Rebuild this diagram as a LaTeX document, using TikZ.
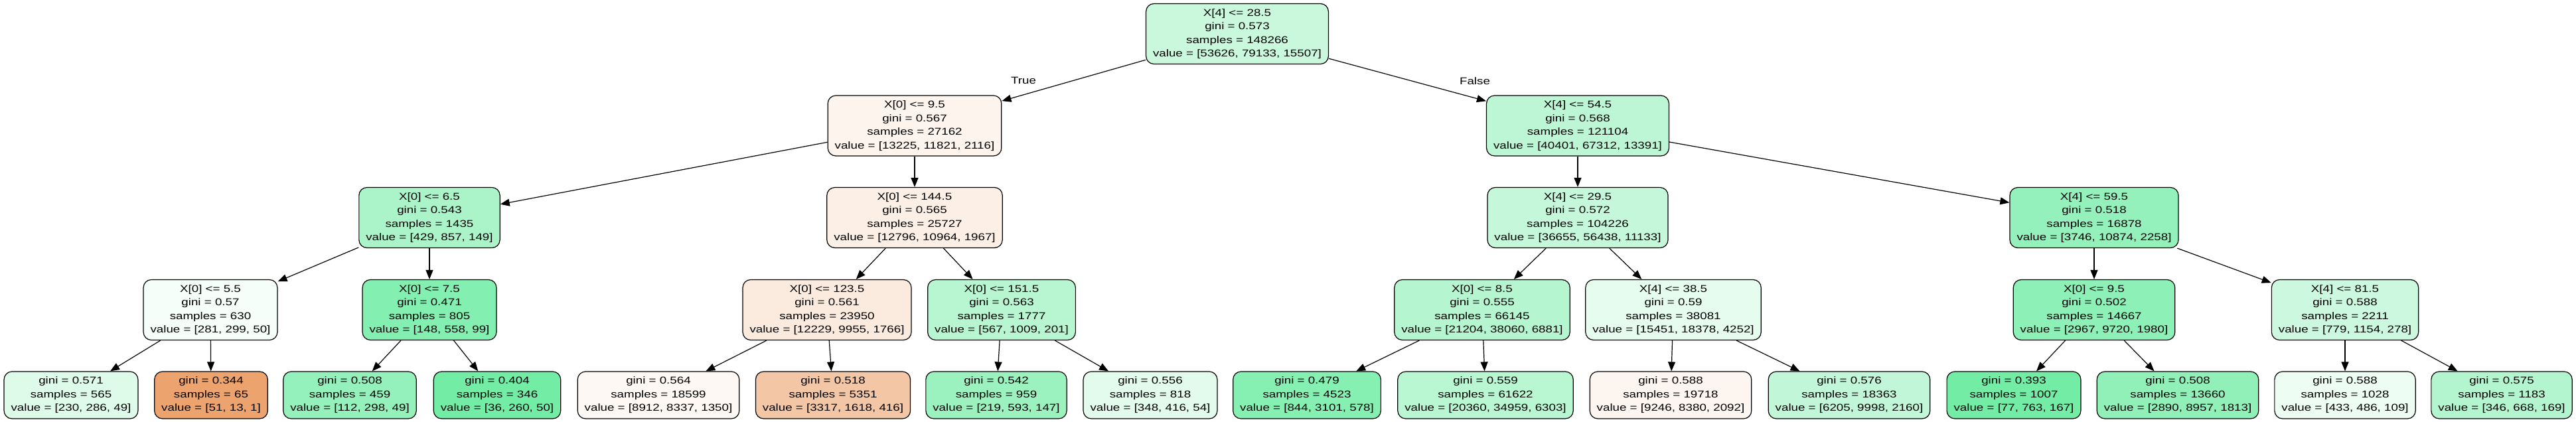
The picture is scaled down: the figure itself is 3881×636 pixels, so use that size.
\documentclass[tikz,border=0pt]{standalone}
\usepackage{fontspec}
\setmainfont{Liberation Sans}[FakeStretch=1.25]
\usepackage{tikz}
\usetikzlibrary{arrows.meta}
% node fills (class colour blended by purity)
\definecolor{c0}{RGB}{202,248,221}
\definecolor{c1}{RGB}{253,244,237}
\definecolor{c2}{RGB}{171,244,201}
\definecolor{c3}{RGB}{245,254,248}
\definecolor{c4}{RGB}{222,251,234}
\definecolor{c5}{RGB}{236,163,110}
\definecolor{c6}{RGB}{131,239,176}
\definecolor{c7}{RGB}{149,241,187}
\definecolor{c8}{RGB}{115,237,166}
\definecolor{c9}{RGB}{252,239,230}
\definecolor{c10}{RGB}{251,235,223}
\definecolor{c11}{RGB}{253,248,244}
\definecolor{c12}{RGB}{243,198,165}
\definecolor{c13}{RGB}{183,246,209}
\definecolor{c14}{RGB}{155,242,191}
\definecolor{c15}{RGB}{226,251,237}
\definecolor{c16}{RGB}{189,246,213}
\definecolor{c17}{RGB}{197,247,218}
\definecolor{c18}{RGB}{181,245,208}
\definecolor{c19}{RGB}{134,239,178}
\definecolor{c20}{RGB}{185,246,210}
\definecolor{c21}{RGB}{229,252,239}
\definecolor{c22}{RGB}{253,245,240}
\definecolor{c23}{RGB}{193,247,216}
\definecolor{c24}{RGB}{148,241,187}
\definecolor{c25}{RGB}{141,240,182}
\definecolor{c26}{RGB}{115,237,166}
\definecolor{c27}{RGB}{144,240,184}
\definecolor{c28}{RGB}{203,248,222}
\definecolor{c29}{RGB}{237,253,244}
\definecolor{c30}{RGB}{179,245,207}

\begin{document}
\begin{tikzpicture}[
  x=0.5pt,y=-0.5pt,
  font=\fontsize{7.5}{10.25}\selectfont,
  split/.style={draw,line width=0.6pt,rounded corners=6pt,align=center,
                inner xsep=5.25pt,inner ysep=0pt,minimum height=45.5pt},
  leaf/.style={split,minimum height=35.5pt},
  lbl/.style={inner sep=0pt},
  arr/.style={-{Triangle[length=7pt,width=5.5pt]},line width=0.6pt}
]
  \useasboundingbox (0,0) rectangle (3881,636);

  % Level 0 — root
  \node[split,fill=c0] (n0) at (1864,51)
    {X[4] <= 28.5\\gini = 0.573\\samples = 148266\\value = [53626, 79133, 15507]};

  % Level 1
  \node[split,fill=c1] (n1) at (1378,189.5)
    {X[0] <= 9.5\\gini = 0.567\\samples = 27162\\value = [13225, 11821, 2116]};
  \node[split,fill=c16] (n16) at (2377,189.5)
    {X[4] <= 54.5\\gini = 0.568\\samples = 121104\\value = [40401, 67312, 13391]};

  % Level 2
  \node[split,fill=c2] (n2) at (647,328)
    {X[0] <= 6.5\\gini = 0.543\\samples = 1435\\value = [429, 857, 149]};
  \node[split,fill=c9] (n9) at (1378,328)
    {X[0] <= 144.5\\gini = 0.565\\samples = 25727\\value = [12796, 10964, 1967]};
  \node[split,fill=c17] (n17) at (2377,328)
    {X[4] <= 29.5\\gini = 0.572\\samples = 104226\\value = [36655, 56438, 11133]};
  \node[split,fill=c24] (n24) at (3155,328)
    {X[4] <= 59.5\\gini = 0.518\\samples = 16878\\value = [3746, 10874, 2258]};

  % Level 3
  \node[split,fill=c3] (n3) at (317,467)
    {X[0] <= 5.5\\gini = 0.57\\samples = 630\\value = [281, 299, 50]};
  \node[split,fill=c6] (n6) at (647,467)
    {X[0] <= 7.5\\gini = 0.471\\samples = 805\\value = [148, 558, 99]};
  \node[split,fill=c10] (n10) at (1246,467)
    {X[0] <= 123.5\\gini = 0.561\\samples = 23950\\value = [12229, 9955, 1766]};
  \node[split,fill=c13] (n13) at (1509,467)
    {X[0] <= 151.5\\gini = 0.563\\samples = 1777\\value = [567, 1009, 201]};
  \node[split,fill=c18] (n18) at (2233,467)
    {X[0] <= 8.5\\gini = 0.555\\samples = 66145\\value = [21204, 38060, 6881]};
  \node[split,fill=c21] (n21) at (2521,467)
    {X[4] <= 38.5\\gini = 0.59\\samples = 38081\\value = [15451, 18378, 4252]};
  \node[split,fill=c25] (n25) at (3155,467)
    {X[0] <= 9.5\\gini = 0.502\\samples = 14667\\value = [2967, 9720, 1980]};
  \node[split,fill=c28] (n28) at (3533,467)
    {X[4] <= 81.5\\gini = 0.588\\samples = 2211\\value = [779, 1154, 278]};

  % Level 4 — leaves
  \node[leaf,fill=c4] (n4) at (107,595.5)
    {gini = 0.571\\samples = 565\\value = [230, 286, 49]};
  \node[leaf,fill=c5] (n5) at (318,595.5)
    {gini = 0.344\\samples = 65\\value = [51, 13, 1]};
  \node[leaf,fill=c7] (n7) at (527,595.5)
    {gini = 0.508\\samples = 459\\value = [112, 298, 49]};
  \node[leaf,fill=c8] (n8) at (749,595.5)
    {gini = 0.404\\samples = 346\\value = [36, 260, 50]};
  \node[leaf,fill=c11] (n11) at (992,595.5)
    {gini = 0.564\\samples = 18599\\value = [8912, 8337, 1350]};
  \node[leaf,fill=c12] (n12) at (1255,595.5)
    {gini = 0.518\\samples = 5351\\value = [3317, 1618, 416]};
  \node[leaf,fill=c14] (n14) at (1501,595.5)
    {gini = 0.542\\samples = 959\\value = [219, 593, 147]};
  \node[leaf,fill=c15] (n15) at (1733,595.5)
    {gini = 0.556\\samples = 818\\value = [348, 416, 54]};
  \node[leaf,fill=c19] (n19) at (1969,595.5)
    {gini = 0.479\\samples = 4523\\value = [844, 3101, 578]};
  \node[leaf,fill=c20] (n20) at (2238,595.5)
    {gini = 0.559\\samples = 61622\\value = [20360, 34959, 6303]};
  \node[leaf,fill=c22] (n22) at (2517,595.5)
    {gini = 0.588\\samples = 19718\\value = [9246, 8380, 2092]};
  \node[leaf,fill=c23] (n23) at (2786,595.5)
    {gini = 0.576\\samples = 18363\\value = [6205, 9998, 2160]};
  \node[leaf,fill=c26] (n26) at (3034,595.5)
    {gini = 0.393\\samples = 1007\\value = [77, 763, 167]};
  \node[leaf,fill=c27] (n27) at (3281,595.5)
    {gini = 0.508\\samples = 13660\\value = [2890, 8957, 1813]};
  \node[leaf,fill=c29] (n29) at (3533,595.5)
    {gini = 0.588\\samples = 1028\\value = [433, 486, 109]};
  \node[leaf,fill=c30] (n30) at (3769,595.5)
    {gini = 0.575\\samples = 1183\\value = [346, 668, 169]};

  % Edges
  \draw[arr] (n0) -- (n1);
  \draw[arr] (n0) -- (n16);
  \draw[arr] (n1) -- (n2);
  \draw[arr] (n1) -- (n9);
  \draw[arr] (n2) -- (n3);
  \draw[arr] (n2) -- (n6);
  \draw[arr] (n3) -- (n4);
  \draw[arr] (n3) -- (n5);
  \draw[arr] (n6) -- (n7);
  \draw[arr] (n6) -- (n8);
  \draw[arr] (n9) -- (n10);
  \draw[arr] (n9) -- (n13);
  \draw[arr] (n10) -- (n11);
  \draw[arr] (n10) -- (n12);
  \draw[arr] (n13) -- (n14);
  \draw[arr] (n13) -- (n15);
  \draw[arr] (n16) -- (n17);
  \draw[arr] (n16) -- (n24);
  \draw[arr] (n17) -- (n18);
  \draw[arr] (n17) -- (n21);
  \draw[arr] (n18) -- (n19);
  \draw[arr] (n18) -- (n20);
  \draw[arr] (n21) -- (n22);
  \draw[arr] (n21) -- (n23);
  \draw[arr] (n24) -- (n25);
  \draw[arr] (n24) -- (n28);
  \draw[arr] (n25) -- (n26);
  \draw[arr] (n25) -- (n27);
  \draw[arr] (n28) -- (n29);
  \draw[arr] (n28) -- (n30);

  % Edge labels
  \node[lbl] (ltrue) at (1542,121) {True};
  \node[lbl] (lfalse) at (2222,122) {False};
\end{tikzpicture}
\end{document}
